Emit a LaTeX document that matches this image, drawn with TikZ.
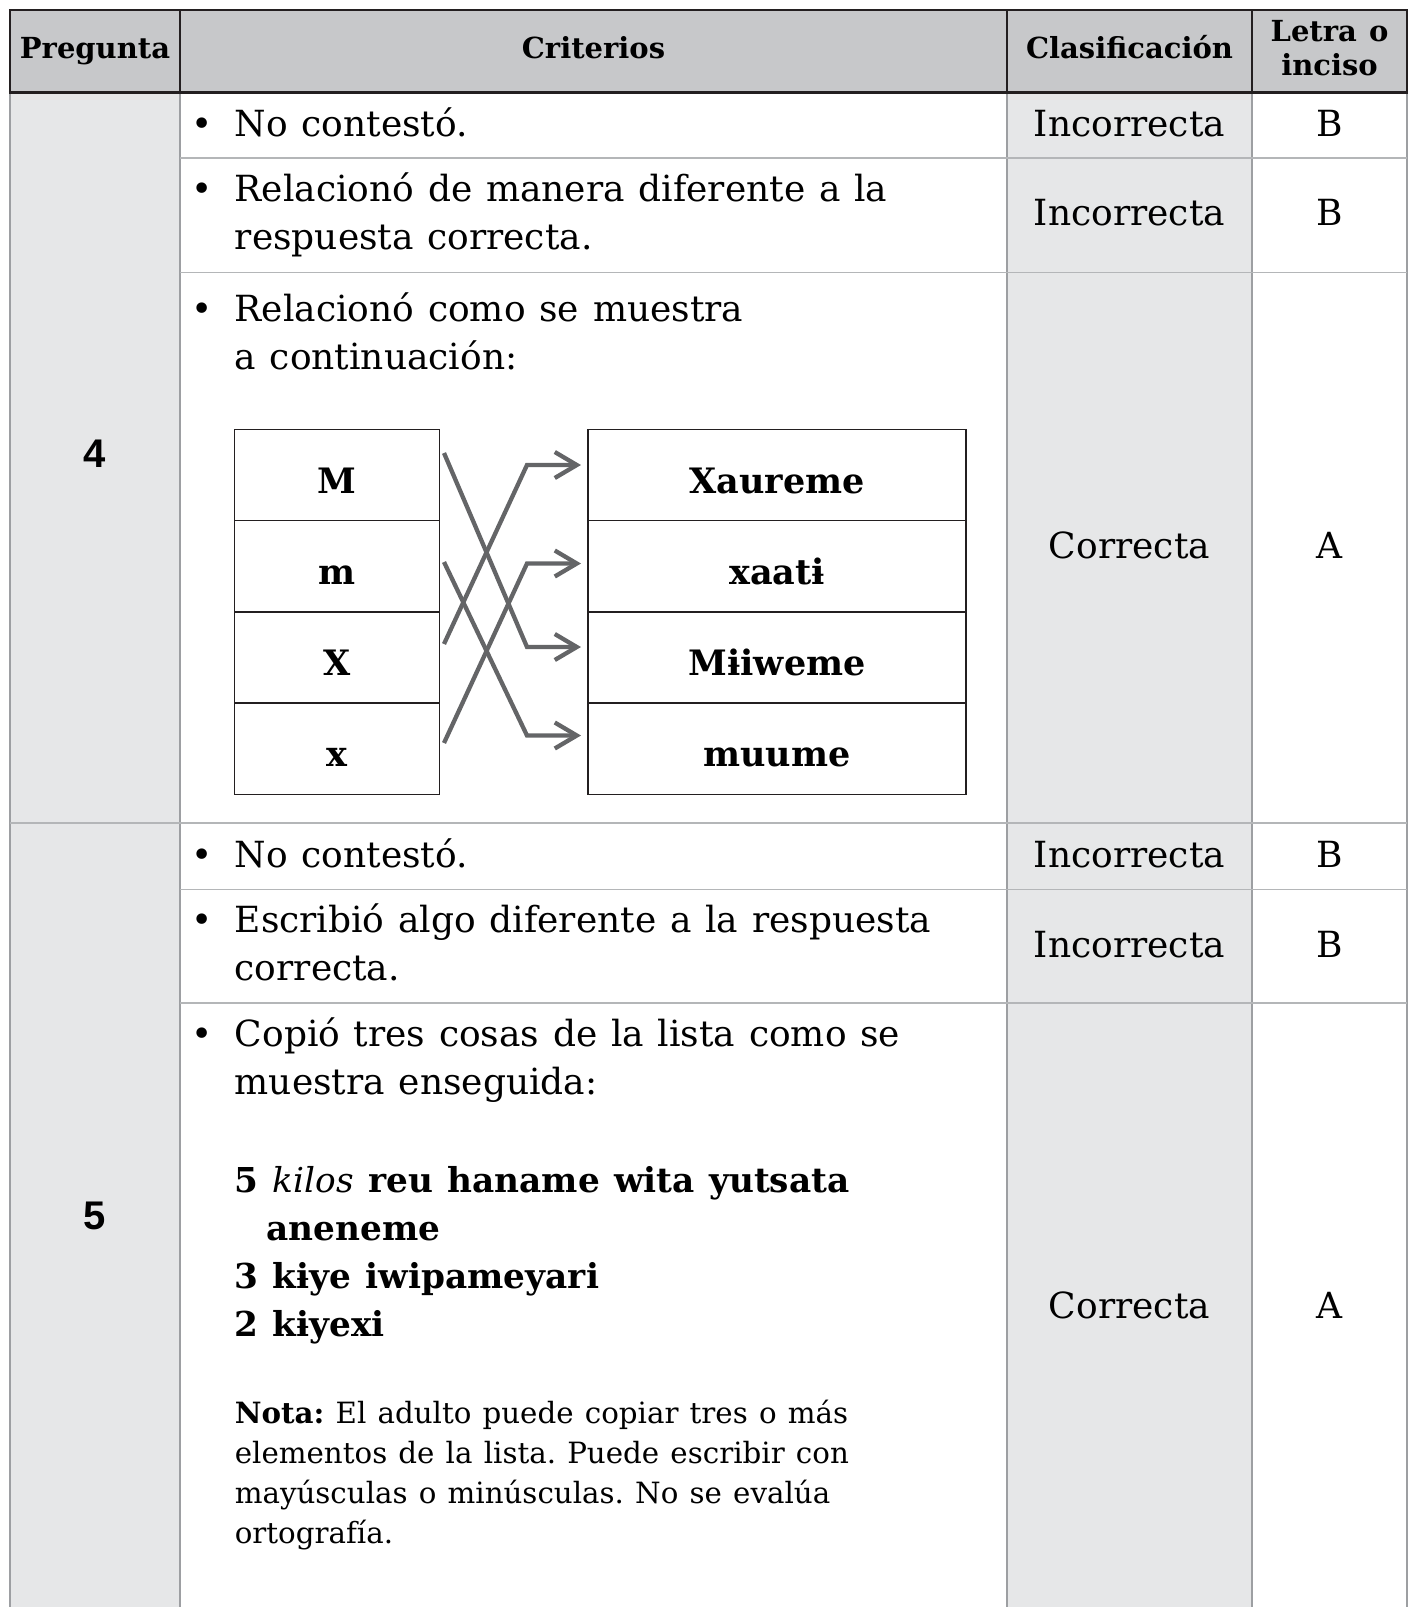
\documentclass[tikz,border=0pt]{standalone}
\usepackage{fontspec}
\setmainfont[WordSpace=1.2]{DejaVu Serif}
\newfontfamily\qnumfont{Liberation Sans}
\usetikzlibrary{arrows.meta}
\frenchspacing
\definecolor{hdrgray}{HTML}{C7C8CA}
\definecolor{colgray}{HTML}{E6E7E8}
\definecolor{darkline}{HTML}{231F20}
\definecolor{rulegray}{HTML}{9D9FA2}
\definecolor{rowgray}{HTML}{B4B6B8}
\definecolor{arrowgray}{HTML}{646567}
\newcommand\myBody{\fontsize{36}{48}\selectfont}
\newcommand\myHead{\fontsize{29}{34}\selectfont\bfseries}
\newcommand\myCell{\fontsize{35}{40}\selectfont\bfseries}
\newcommand\myList{\fontsize{34.3}{48}\selectfont\bfseries}
\newcommand\myNota{\fontsize{29.3}{40}\selectfont}
\newcommand\myQnum{\fontsize{40}{48}\selectfont\qnumfont\bfseries}
\begin{document}
\begin{tikzpicture}[x=1pt,y=-1pt,
  txt/.style={anchor=base west,inner sep=0pt,font=\myBody},
  ctr/.style={anchor=base,inner sep=0pt,font=\myBody},
  hdr/.style={anchor=base,inner sep=0pt,font=\myHead},
  lst/.style={anchor=base west,inner sep=0pt,font=\myList},
  nota/.style={anchor=base west,inner sep=0pt,font=\myNota},
  qnum/.style={anchor=center,inner sep=0pt,font=\myQnum},
  bul/.style={anchor=base,inner sep=0pt,font=\myBody},
  lcell/.style={draw=darkline,line width=1.5pt,minimum width=205pt,minimum height=91.2pt,inner sep=0pt,text height=36pt,text depth=0pt,font=\myCell},
  rcell/.style={lcell,minimum width=378pt},
  link/.style={draw=arrowgray,line width=4.3pt,-{Straight Barb[length=22pt,width=26pt,line width=4.3pt]}},
  hline/.style={draw=darkline,line width=1.5pt},
  vline/.style={draw=rulegray,line width=1.5pt},
  rline/.style={draw=rowgray,line width=1.5pt}
]
\useasboundingbox (0,0) rectangle (1414,1607);
% fills
\fill[hdrgray] (10,10) rectangle (1407,92);
\fill[colgray] (10,92) rectangle (180,1607);
\fill[colgray] (1007,92) rectangle (1252,1607);
% body rules
\foreach \xx in {10,180,1007,1252,1407} {\draw[vline] (\xx,92) -- (\xx,1607);}
\foreach \yy in {157.8,272.5,889.4,1003.1} {\draw[rline] (180,\yy) -- (1407,\yy);}
\draw[rline] (10,822.8) -- (1407,822.8);
% header rules
\foreach \xx in {10,180,1007,1252,1407} {\draw[hline] (\xx,10) -- (\xx,92);}
\draw[darkline,line width=2.5pt] (8.75,10) -- (1408.25,10);
\draw[darkline,line width=3pt] (8.75,92) -- (1408.25,92);
% header text
\node[hdr] (hP) at (95,58.5) {Pregunta};
\node[hdr] (hC) at (593.5,58.5) {Criterios};
\node[hdr] (hK) at (1129.5,58.5) {Clasificación};
\node[hdr] (hL1) at (1329.5,41) {Letra o};
\node[hdr] (hL2) at (1329.5,75.5) {inciso};
% question numbers
\node[qnum] (q4) at (94.5,454) {4};
\node[qnum] (q5) at (94.5,1216) {5};
% Q4 criteria
\node[bul] (b41) at (202,136) {•};
\node[txt] (c41) at (234.6,136) {No contestó.};
\node[bul] (b42) at (202,201) {•};
\node[txt] (c42a) at (234.6,201) {Relacionó de manera diferente a la};
\node[txt] (c42b) at (234.6,249) {respuesta correcta.};
\node[bul] (b43) at (202,321) {•};
\node[txt] (c43a) at (234.6,321) {Relacionó como se muestra};
\node[txt] (c43b) at (234.6,369) {a continuación:};
% matching boxes
\node[lcell] (lM) at (337.1,475.1) {M};
\node[lcell] (lm) at (337.1,566.3) {m};
\node[lcell] (lX) at (337.1,657.5) {X};
\node[lcell] (lx) at (337.1,748.7) {x};
\node[rcell] (rXa) at (777.1,475.1) {Xaureme};
\node[rcell] (rxa) at (777.1,566.3) {xaatɨ};
\node[rcell] (rMi) at (777.1,657.5) {Mɨiweme};
\node[rcell] (rmu) at (777.1,748.7) {muume};
% arrows
\coordinate (sM) at (444,453);
\coordinate (sm) at (444,562);
\coordinate (sX) at (444,644);
\coordinate (sx) at (444,743);
\coordinate (kM) at (527,647);
\coordinate (km) at (527,735.5);
\coordinate (kX) at (527,465);
\coordinate (kx) at (527,563.5);
\coordinate (eM) at (581,647);
\coordinate (em) at (581,735.5);
\coordinate (eX) at (581,465);
\coordinate (ex) at (581,563.5);
\draw[link] (sM) -- (kM) -- (eM);
\draw[link] (sm) -- (km) -- (em);
\draw[link] (sX) -- (kX) -- (eX);
\draw[link] (sx) -- (kx) -- (ex);
% Q4 classification
\node[ctr] (k41) at (1129.5,136) {Incorrecta};
\node[ctr] (l41) at (1329.5,136) {B};
\node[ctr] (k42) at (1129.5,225.5) {Incorrecta};
\node[ctr] (l42) at (1329.5,225.5) {B};
\node[ctr] (k43) at (1129.5,558.5) {Correcta};
\node[ctr] (l43) at (1329.5,558.5) {A};
% Q5 criteria
\node[bul] (b51) at (202,867) {•};
\node[txt] (c51) at (234.6,867) {No contestó.};
\node[bul] (b52) at (202,932.5) {•};
\node[txt] (c52a) at (234.6,932.5) {Escribió algo diferente a la respuesta};
\node[txt] (c52b) at (234.6,980.5) {correcta.};
\node[bul] (b53) at (202,1046) {•};
\node[txt] (c53a) at (234.6,1046) {Copió tres cosas de la lista como se};
\node[txt] (c53b) at (234.6,1094.3) {muestra enseguida:};
\node[lst] (w1) at (234.6,1192) {5 {\mdseries\itshape kilos} reu haname wita yutsata};
\node[lst] (w1b) at (266.4,1240) {aneneme};
\node[lst] (w2) at (234.6,1288) {3 kɨye iwipameyari};
\node[lst] (w3) at (234.6,1336) {2 kɨyexi};
\node[nota] (n1) at (234.6,1423) {\textbf{Nota:} El adulto puede copiar tres o más};
\node[nota] (n2) at (234.6,1463) {elementos de la lista. Puede escribir con};
\node[nota] (n3) at (234.6,1503) {mayúsculas o minúsculas. No se evalúa};
\node[nota] (n4) at (234.6,1543) {ortografía.};
% Q5 classification
\node[ctr] (k51) at (1129.5,867) {Incorrecta};
\node[ctr] (l51) at (1329.5,867) {B};
\node[ctr] (k52) at (1129.5,957) {Incorrecta};
\node[ctr] (l52) at (1329.5,957) {B};
\node[ctr] (k53) at (1129.5,1318.7) {Correcta};
\node[ctr] (l53) at (1329.5,1318.7) {A};
\end{tikzpicture}
\end{document}
